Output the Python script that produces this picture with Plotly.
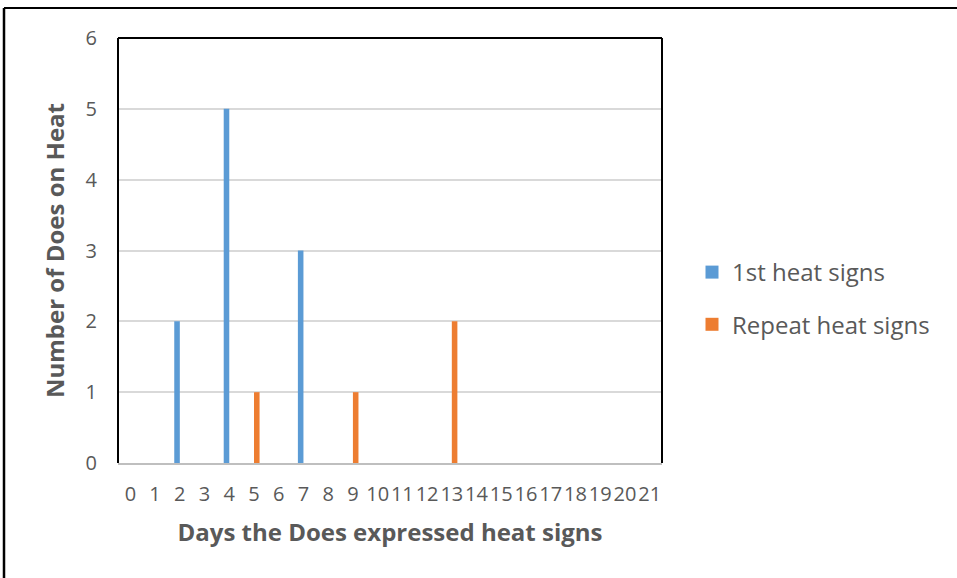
import plotly.graph_objects as go

days = [str(d) for d in range(22)]
first_heat = [0, 0, 2, 0, 5, 0, 0, 3, 0, 0, 0, 0, 0, 0, 0, 0, 0, 0, 0, 0, 0, 0]
repeat_heat = [0, 0, 0, 0, 0, 1, 0, 0, 0, 1, 0, 0, 0, 2, 0, 0, 0, 0, 0, 0, 0, 0]
series_names = ["1st heat signs", "Repeat heat signs"]
colors = ["#5B9BD5", "#ED7D31"]

W, H = 957, 578
L, R, T, B = 118, 295, 38, 115
pw, ph = W - L - R, H - T - B

def px_x(px):
    return (px - L) / pw

def px_y(py):
    return (H - B - py) / ph

fig = go.Figure()
for vals, name, col, grp in [(first_heat, series_names[0], colors[0], "a"),
                             (repeat_heat, series_names[1], colors[1], "b")]:
    fig.add_trace(go.Bar(x=days, y=vals, name=name, marker_color=col,
                         marker_line_width=0, legendgroup=grp, showlegend=False))
# legend-only entries with square swatches
for name, col, grp in [(series_names[0], colors[0], "a"), (series_names[1], colors[1], "b")]:
    fig.add_trace(go.Scatter(x=[None], y=[None], mode="markers", name=name,
                             marker=dict(symbol="square", size=13, color=col),
                             legendgroup=grp, showlegend=True))

font_family = "Open Sans, Noto Sans, sans-serif"
gray = "#595959"

fig.update_layout(
    width=W, height=H,
    margin=dict(l=L, r=R, t=T, b=B),
    paper_bgcolor="white", plot_bgcolor="white",
    barmode="group", bargap=0.55, bargroupgap=0,
    font=dict(family=font_family, color=gray),
    showlegend=True,
    legend=dict(x=px_x(692), y=px_y(250), xanchor="left", yanchor="top",
                font=dict(size=24, color=gray), itemwidth=30,
                tracegroupgap=18, bgcolor="rgba(0,0,0,0)"),
    xaxis=dict(type="category", tickmode="array", tickvals=days, ticktext=days,
               tickfont=dict(size=20, color=gray), showgrid=False,
               showline=True, linecolor="#BFBFBF", linewidth=1.5,
               ticks="", ticklabelstandoff=12, tickangle=0,
               title=dict(text="<b>Days the Does expressed heat signs</b>",
                          font=dict(size=24, color=gray), standoff=18)),
    yaxis=dict(range=[0, 6], dtick=1, tickfont=dict(size=20, color=gray),
               showgrid=True, gridcolor="#D9D9D9", gridwidth=1.5,
               zeroline=False, showline=False, ticks="", ticklabelstandoff=20,
               title=dict(text="<b>Number of Does on Heat</b>",
                          font=dict(size=24, color=gray), standoff=14)),
)

# plot-area frame (left, top, right in black)
fig.add_shape(type="line", xref="paper", yref="paper", x0=0, x1=0, y0=0, y1=1,
              line=dict(color="black", width=2))
fig.add_shape(type="line", xref="paper", yref="paper", x0=0, x1=1, y0=1, y1=1,
              line=dict(color="black", width=2))
fig.add_shape(type="line", xref="paper", yref="paper", x0=1, x1=1, y0=0, y1=1,
              line=dict(color="black", width=2))
# outer chart border (top and left visible)
fig.add_shape(type="line", xref="paper", yref="paper", x0=px_x(4), x1=px_x(960),
              y0=px_y(8), y1=px_y(8), line=dict(color="black", width=2))
fig.add_shape(type="line", xref="paper", yref="paper", x0=px_x(4), x1=px_x(4),
              y0=px_y(8), y1=px_y(585), line=dict(color="black", width=2.5))

fig.write_html("out.html")
